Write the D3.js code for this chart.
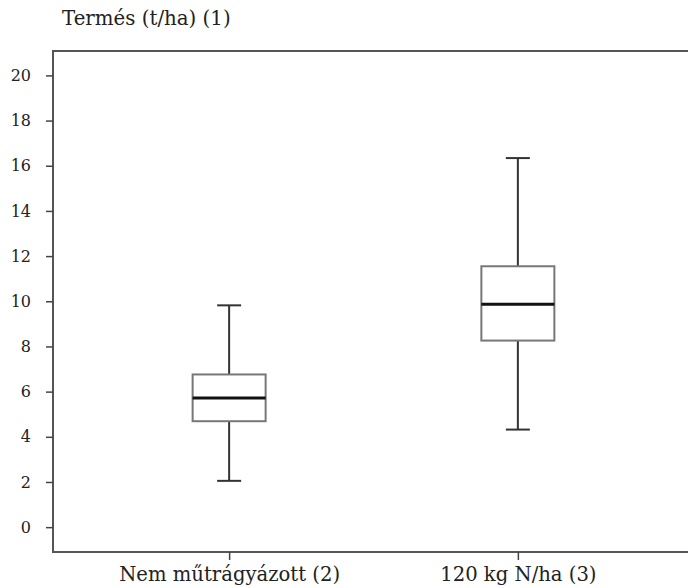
<!DOCTYPE html>
<html>
<head>
<meta charset="utf-8">
<script src="https://cdn.jsdelivr.net/npm/d3@7"></script>
<style>
  body { margin: 0; background: #fff; }
  svg text { font-family: "DejaVu Serif", "Liberation Serif", serif; fill: #222; }
</style>
</head>
<body>
<div id="chart"></div>
<script>
// data
var groups = ["Nem műtrágyázott (2)", "120 kg N/ha (3)"];
var whiskerLow = [2.05, 4.32];
var q1 = [4.69, 8.26];
var median = [5.72, 9.87];
var q3 = [6.76, 11.55];
var whiskerHigh = [9.82, 16.34];
var yTicks = [0, 2, 4, 6, 8, 10, 12, 14, 16, 18, 20];

var width = 688, height = 588;
var plotLeft = 53, plotTop = 51, plotBottom = 552, plotRight = 688;

var svg = d3.select("#chart").append("svg")
    .attr("width", width)
    .attr("height", height);

var y = d3.scaleLinear().domain([-1.1, 21.08]).range([plotBottom, plotTop]);
var x = d3.scalePoint().domain(groups).range([plotLeft, 694]).padding(0.61);

var boxes = groups.map(function (g, i) {
  return { name: g, lo: whiskerLow[i], q1: q1[i], med: median[i], q3: q3[i], hi: whiskerHigh[i] };
});

// frame: top, left, bottom (no right side)
svg.append("path")
    .attr("d", "M" + plotRight + "," + plotTop + "H" + plotLeft + "V" + plotBottom + "H" + plotRight)
    .attr("fill", "none")
    .attr("stroke", "#555")
    .attr("stroke-width", 2);

// y axis
var yAxis = d3.axisLeft(y).tickValues(yTicks).tickSize(7).tickPadding(15);
var gy = svg.append("g").attr("transform", "translate(" + plotLeft + ",0)").call(yAxis);
gy.select(".domain").remove();
gy.selectAll(".tick line").attr("stroke", "#444").attr("stroke-width", 1.5);
gy.selectAll(".tick text")
    .attr("font-family", "DejaVu Serif")
    .attr("font-size", 16)
    .attr("fill", "#333");

// x axis
var xAxis = d3.axisBottom(x).tickSize(8).tickPadding(7);
var gx = svg.append("g").attr("transform", "translate(0," + plotBottom + ")").call(xAxis);
gx.select(".domain").remove();
gx.selectAll(".tick line").attr("stroke", "#444").attr("stroke-width", 1.5);
gx.selectAll(".tick text")
    .attr("font-family", "DejaVu Serif")
    .attr("font-size", 19.6)
    .attr("fill", "#222");

// title
svg.append("text")
    .attr("x", 62)
    .attr("y", 25)
    .attr("font-size", 19.8)
    .text("Termés (t/ha) (1)");

var boxW = 73, capW = 24;

var g = svg.selectAll(".box").data(boxes).enter().append("g").attr("class", "box");

// whiskers
g.append("line")
    .attr("x1", function (d) { return x(d.name); })
    .attr("x2", function (d) { return x(d.name); })
    .attr("y1", function (d) { return y(d.hi); })
    .attr("y2", function (d) { return y(d.q3); })
    .attr("stroke", "#333").attr("stroke-width", 2);
g.append("line")
    .attr("x1", function (d) { return x(d.name); })
    .attr("x2", function (d) { return x(d.name); })
    .attr("y1", function (d) { return y(d.q1); })
    .attr("y2", function (d) { return y(d.lo); })
    .attr("stroke", "#333").attr("stroke-width", 2);

// caps
["hi", "lo"].forEach(function (k) {
  g.append("line")
      .attr("x1", function (d) { return x(d.name) - capW / 2; })
      .attr("x2", function (d) { return x(d.name) + capW / 2; })
      .attr("y1", function (d) { return y(d[k]); })
      .attr("y2", function (d) { return y(d[k]); })
      .attr("stroke", "#333").attr("stroke-width", 2);
});

// box
g.append("rect")
    .attr("x", function (d) { return x(d.name) - boxW / 2; })
    .attr("y", function (d) { return y(d.q3); })
    .attr("width", boxW)
    .attr("height", function (d) { return y(d.q1) - y(d.q3); })
    .attr("fill", "#fff")
    .attr("stroke", "#777")
    .attr("stroke-width", 2);

// median
g.append("line")
    .attr("x1", function (d) { return x(d.name) - boxW / 2; })
    .attr("x2", function (d) { return x(d.name) + boxW / 2; })
    .attr("y1", function (d) { return y(d.med); })
    .attr("y2", function (d) { return y(d.med); })
    .attr("stroke", "#111").attr("stroke-width", 3);
</script>
</body>
</html>
